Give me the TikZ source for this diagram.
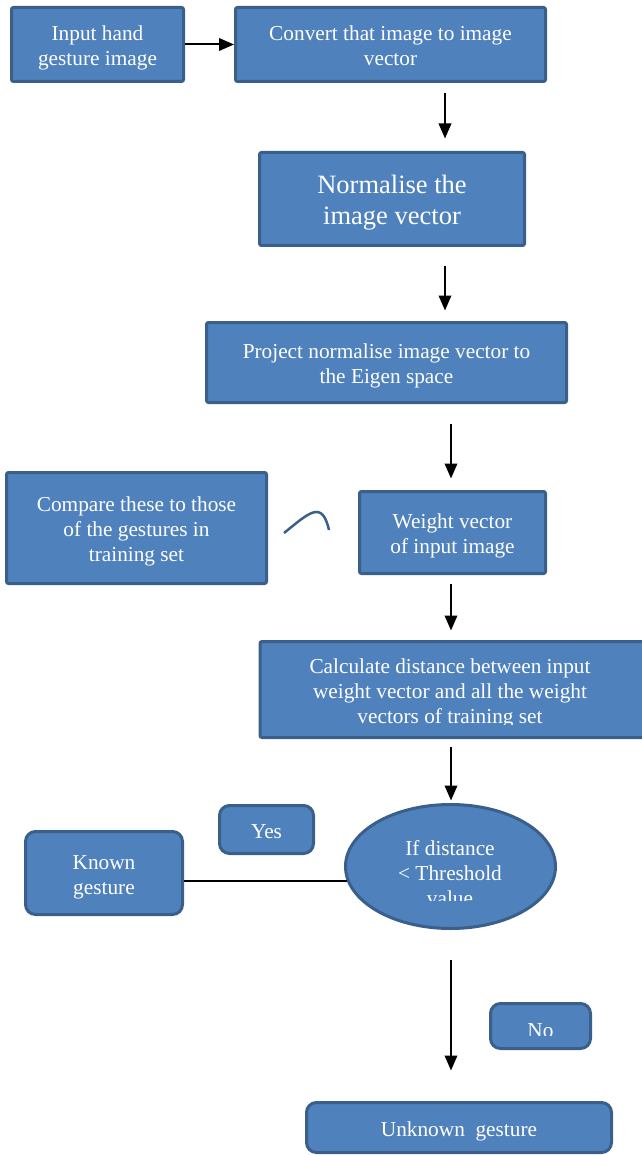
\documentclass[tikz,border=0pt]{standalone}
\usepackage{fontspec}
\setmainfont{Liberation Serif}
\usetikzlibrary{arrows.meta,shapes.geometric}
\definecolor{boxfill}{HTML}{4F81BD}
\definecolor{boxline}{HTML}{3A5F8B}
\newcommand\boxtxt[1]{\raisebox{0pt}[\dimexpr\height+7.5pt\relax][\depth]{\begin{tabular}{@{}c@{}}#1\end{tabular}}}
\tikzset{
  base/.style={draw=boxline,fill=boxfill,line width=3pt,text=white,inner sep=0pt,
    font=\fontsize{21.3}{25}\selectfont},
  sq/.style={base,rectangle,rounded corners=2pt},
  rnd/.style={base,rectangle,rounded corners=10pt},
  ellbox/.style={base,ellipse},
  txt/.style={text=white,align=center,inner sep=0pt,font=\fontsize{21.3}{25}\selectfont},
  arr/.style={line width=2pt,-{Triangle[length=15pt,width=12.5pt]}},
  ln/.style={line width=2pt},
}
\begin{document}
\begin{tikzpicture}[x=1pt,y=-1pt]
\useasboundingbox (0,0) rectangle (641,1155);
\node[sq,minimum width=172,minimum height=74] (inp) at (97.5,44.5) {\boxtxt{Input hand\\gesture image}};
\node[sq,minimum width=310,minimum height=74] (conv) at (390.5,44.5) {\boxtxt{Convert that image to image\\vector}};
\node[sq,minimum width=265,minimum height=93,font=\fontsize{26.5}{31}\selectfont] (norm) at (392,199) {\boxtxt{Normalise the\\image vector}};
\node[sq,minimum width=360,minimum height=80] (proj) at (386.5,362.5) {\boxtxt{Project normalise image vector to\\the Eigen space}};
\node[sq,minimum width=260,minimum height=111] (comp) at (136.5,528) {\boxtxt{Compare these to those\\of the gestures in\\training set}};
\node[sq,minimum width=186,minimum height=82] (wv) at (452.5,532.5) {\boxtxt{Weight vector\\of input image}};
\node[sq,minimum width=399,minimum height=96] (calc) at (459.5,689.5) {};
\begin{scope}
\clip (260,642) rectangle (641,724);
\node[txt] (calct) at (450,693) {Calculate distance between input\\weight vector and all the weight\\vectors of training set};
\end{scope}
\node[ellbox,minimum width=210,minimum height=124] (ell) at (450.5,866.5) {};
\begin{scope}
\clip (360,830) rectangle (540,900);
\node[txt] (ellt) at (450,873) {If distance\\< Threshold\\value};
\end{scope}
\node[rnd,minimum width=94,minimum height=48] (yes) at (266.5,829.5) {\boxtxt{Yes}};
\node[rnd,minimum width=157,minimum height=83] (known) at (104,873) {\boxtxt{Known\\gesture}};
\node[rnd,minimum width=100,minimum height=45] (no) at (540.5,1026) {};
\begin{scope}
\clip (500,1010) rectangle (580,1035);
\node[txt] (not) at (540.5,1031) {No};
\end{scope}
\node[rnd,minimum width=305,minimum height=50] (unk) at (459,1127.5) {\boxtxt{Unknown\ \ gesture}};
\coordinate (xa) at (445,0);
\coordinate (xb) at (451,0);
\draw[arr] (inp.east) -- (conv.west);
\draw[arr,shorten <=10.5pt,shorten >=12.5pt] (conv.south -| xa) -- (norm.north -| xa);
\draw[arr,shorten <=19.5pt,shorten >=10.5pt] (norm.south -| xa) -- (proj.north -| xa);
\draw[arr,shorten <=19.5pt,shorten >=11.5pt] (proj.south -| xb) -- (wv.north -| xb);
\draw[arr,shorten <=8.5pt,shorten >=9.5pt] (wv.south -| xb) -- (calc.north -| xb);
\draw[arr,shorten <=7.5pt,shorten >=2.5pt] (calc.south -| xb) -- (ell.north -| xb);
\draw[arr,shorten <=29.5pt,shorten >=30.5pt] (ell.south -| xb) -- (unk.north -| xb);
\draw[ln] (known.east |- ell.188) -- (ell.188);
\draw[boxline,line width=2.5pt] (284,533) .. controls (310,512) and (322,500) .. (329,530);
\end{tikzpicture}
\end{document}
